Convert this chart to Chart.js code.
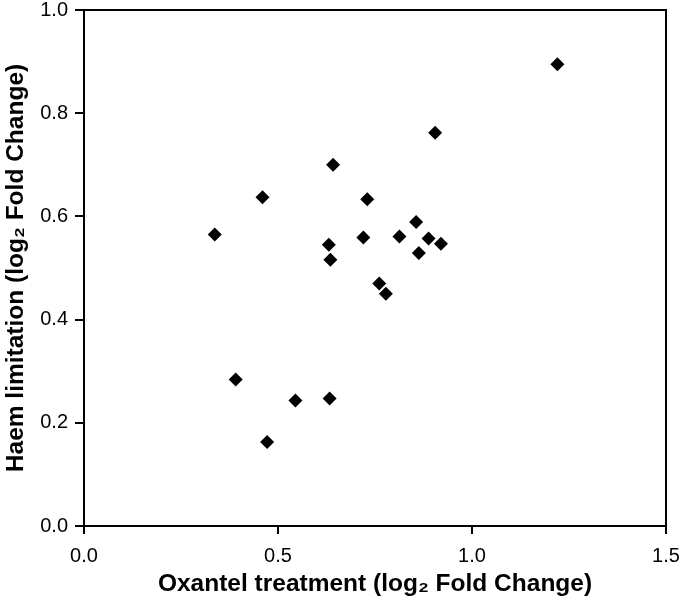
<!DOCTYPE html>
<html>
<head>
<meta charset="utf-8">
<script src="https://cdn.jsdelivr.net/npm/chart.js@4"></script>
<style>
  html, body { margin: 0; padding: 0; background: #fff; }
  canvas { display: block; }
</style>
</head>
<body>
<canvas id="scatter" width="680" height="601"></canvas>
<script>
// Oxantel treatment vs haem limitation, both log2 fold change
const oxantelFC = [0.337, 0.391, 0.460, 0.472, 0.545, 0.631, 0.633, 0.635, 0.642, 0.720,
                   0.730, 0.761, 0.778, 0.813, 0.856, 0.863, 0.888, 0.905, 0.920, 1.220];
const haemFC    = [0.565, 0.284, 0.637, 0.163, 0.243, 0.545, 0.247, 0.516, 0.700, 0.559,
                   0.633, 0.470, 0.450, 0.561, 0.589, 0.529, 0.557, 0.762, 0.547, 0.895];
const xTicks = [0.0, 0.5, 1.0, 1.5];
const yTicks = [0.0, 0.2, 0.4, 0.6, 0.8, 1.0];
const xTitle = 'Oxantel treatment (log\u2082 Fold Change)';
const yTitle = 'Haem limitation (log\u2082 Fold Change)';

const points = oxantelFC.map((x, i) => ({ x, y: haemFC[i] }));

// closes the plot box on the top and right sides
const frameBox = {
  id: 'frameBox',
  afterDraw(chart) {
    const { ctx, chartArea: a } = chart;
    ctx.save();
    ctx.strokeStyle = '#000';
    ctx.lineWidth = 2;
    ctx.beginPath();
    ctx.moveTo(a.left, a.top);
    ctx.lineTo(a.right, a.top);
    ctx.lineTo(a.right, a.bottom);
    ctx.stroke();
    ctx.restore();
  },
};

const tickFont = { family: 'Liberation Sans, Arial, sans-serif', size: 20 };
const titleFont = { family: 'Liberation Sans, Arial, sans-serif', size: 24.5, weight: 'bold' };

new Chart(document.getElementById('scatter').getContext('2d'), {
  type: 'scatter',
  data: {
    datasets: [{
      data: points,
      pointStyle: 'rectRot',
      pointRadius: 7,
      pointHoverRadius: 7,
      backgroundColor: '#000',
      borderColor: '#000',
      borderWidth: 0,
    }],
  },
  options: {
    responsive: false,
    animation: false,
    layout: { padding: { top: 10, right: 14, left: 0, bottom: 0 } },
    plugins: { legend: { display: false }, tooltip: { enabled: false } },
    scales: {
      x: {
        type: 'linear',
        min: 0,
        max: 1.5,
        afterBuildTicks: s => { s.ticks = xTicks.map(v => ({ value: v })); },
        afterFit: s => { s.height = 75; s.paddingLeft = 0; s.paddingRight = 0; },
        ticks: { color: '#000', font: tickFont, padding: 10, maxRotation: 0,
                 callback: v => Number(v).toFixed(1) },
        grid: { drawOnChartArea: false, drawTicks: true, tickLength: 8, color: '#000', lineWidth: 2 },
        border: { display: true, color: '#000', width: 2 },
        title: { display: true, text: xTitle, color: '#000', font: titleFont,
                 padding: { top: 4, bottom: 2 } },
      },
      y: {
        type: 'linear',
        min: 0,
        max: 1.0,
        afterBuildTicks: s => { s.ticks = yTicks.map(v => ({ value: v })); },
        afterFit: s => { s.width = 84; s.paddingTop = 0; s.paddingBottom = 0; },
        ticks: { color: '#000', font: tickFont, padding: 7,
                 callback: v => Number(v).toFixed(1) },
        grid: { drawOnChartArea: false, drawTicks: true, tickLength: 9, color: '#000', lineWidth: 2 },
        border: { display: true, color: '#000', width: 2 },
        title: { display: true, text: yTitle, color: '#000', font: titleFont,
                 padding: { top: 2, bottom: 4 } },
      },
    },
  },
  plugins: [frameBox],
});
</script>
</body>
</html>
